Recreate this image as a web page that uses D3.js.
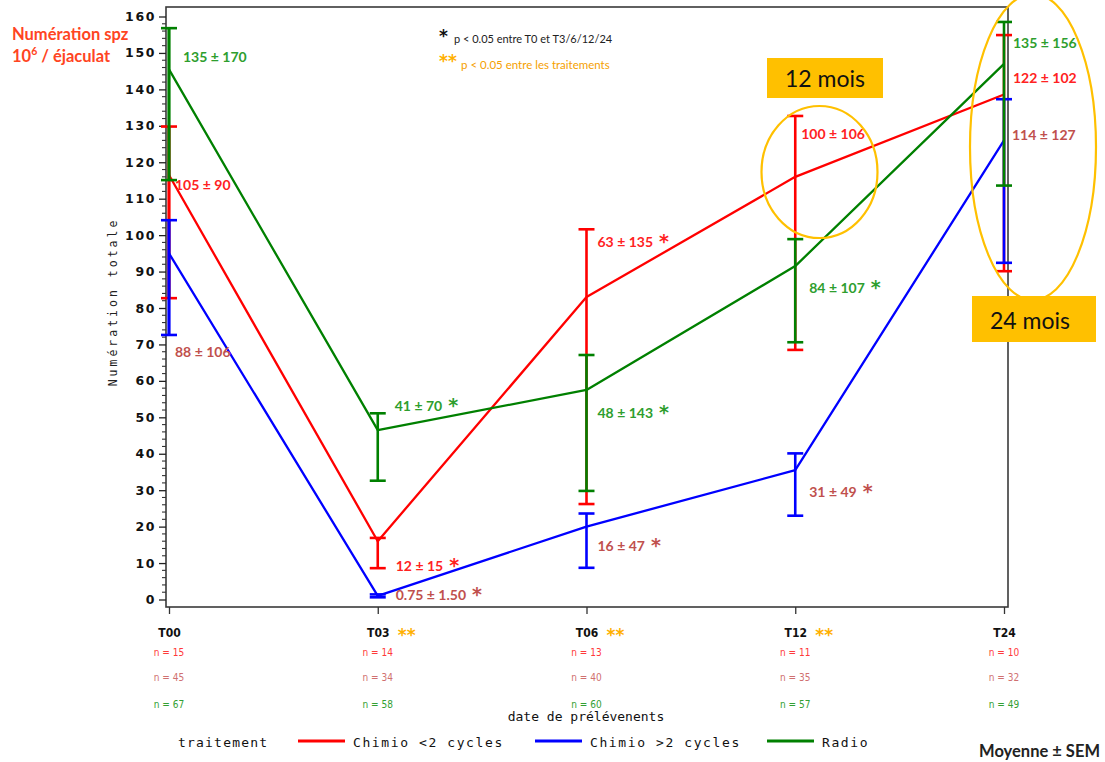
<!DOCTYPE html>
<html>
<head>
<meta charset="utf-8">
<script src="https://cdn.jsdelivr.net/npm/d3@7"></script>
<style>
  html, body { margin: 0; padding: 0; background: #ffffff; }
  svg { display: block; }
</style>
</head>
<body>
<svg id="chart" width="1105" height="762"></svg>
<script>
// ---- data -------------------------------------------------------------
const times = ["T00", "T03", "T06", "T12", "T24"];
const seriesNames = ["Chimio <2 cycles", "Chimio >2 cycles", "Radio"];
const yTicks = [0, 10, 20, 30, 40, 50, 60, 70, 80, 90, 100, 110, 120, 130, 140, 150, 160];

// plotted points (line) per group
const lineChimioLow  = [116.5, 16, 83, 116, 138.6];
const lineChimioHigh = [95, 1, 20, 35.5, 126];
const lineRadio      = [145.5, 46.5, 57.5, 91.5, 147];

// error bars (mean ± SEM): [low, high]
const barChimioLow  = [[82.7, 129.8], [8.6, 16.9], [26.2, 101.6], [68.5, 132.7], [90.1, 154.9]];
const barChimioHigh = [[72.6, 104.1], [0.6, 1.4], [8.7, 23.6], [23.0, 40.1], [92.4, 137.3]];
const barRadio      = [[115.1, 156.8], [32.6, 51.1], [29.8, 67.1], [70.6, 98.9], [113.6, 158.5]];

// mean ± SD labels
const labelChimioLow  = ["105 ± 90", "12 ± 15", "63 ± 135", "100 ± 106", "122 ± 102"];
const labelChimioHigh = ["88 ± 106", "0.75 ± 1.50", "16 ± 47", "31 ± 49", "114 ± 127"];
const labelRadio      = ["135 ± 170", "41 ± 70", "48 ± 143", "84 ± 107", "135 ± 156"];
// significance vs T0
const starChimioLow  = [false, true, true, false, false];
const starChimioHigh = [false, true, true, true, false];
const starRadio      = [false, true, true, true, false];
// significance between treatments
const starBetween = [false, true, true, true, false];

// sample sizes
const nChimioLow  = [15, 14, 13, 11, 10];
const nChimioHigh = [45, 34, 40, 35, 32];
const nRadio      = [67, 58, 60, 57, 49];

// ---- layout & style ---------------------------------------------------
const W = 1105, H = 762;
const frame = { left: 166, right: 1008, top: 7, bottom: 607 };
const lineColors  = ["#ff0000", "#0000ff", "#008000"];
const labelColors = ["#ff2222", "#c0504d", "#2e9e2e"];
const nColors     = ["#ff3a3a", "#d07070", "#33a033"];
const orange = "#ffb000";

// label placement: [dx from point, baseline y] for each series / time
const labelPlace = [
  [[6, 190], [18, 571], [11, 247], [6, 139], [9, 83]],
  [[6, 357], [18, 600], [11, 551], [14, 497], [8, 140]],
  [[14, 62], [17, 411], [11, 418], [14, 293], [9, 48]]
];

const svg = d3.select("#chart");
svg.append("rect").attr("width", W).attr("height", H).attr("fill", "#fff");

const x = d3.scalePoint().domain(times).range([169, 1004]);
const y = d3.scaleLinear().domain([0, 160]).range([599.5, 16.5]);

// frame
svg.append("rect")
  .attr("x", frame.left).attr("y", frame.top)
  .attr("width", frame.right - frame.left).attr("height", frame.bottom - frame.top)
  .attr("fill", "none").attr("stroke", "#3a3a3a").attr("stroke-width", 1.6);

// y axis: major ticks with labels, minor ticks every 2 units
const yAxis = d3.axisLeft(y).tickValues(yTicks).tickSize(7).tickPadding(3).tickFormat(d3.format("d"));
const gy = svg.append("g").attr("transform", `translate(${frame.left},0)`).call(yAxis);
gy.select(".domain").remove();
gy.selectAll("line").attr("stroke", "#222").attr("stroke-width", 1.3);
gy.selectAll("text")
  .attr("font-family", "'DejaVu Sans', sans-serif")
  .attr("font-weight", "bold")
  .attr("font-size", 12.5)
  .attr("letter-spacing", 1.6)
  .attr("fill", "#111");
const minor = d3.range(0, 161, 2).filter(v => v % 10 !== 0);
svg.append("g").selectAll("line").data(minor).join("line")
  .attr("x1", frame.left - 4).attr("x2", frame.left)
  .attr("y1", d => y(d)).attr("y2", d => y(d))
  .attr("stroke", "#333").attr("stroke-width", 1.1);

// y axis title
svg.append("text")
  .attr("transform", `translate(117,${302}) rotate(-90)`)
  .attr("text-anchor", "middle")
  .attr("font-family", "'DejaVu Sans Mono', monospace")
  .attr("font-size", 11.5)
  .attr("letter-spacing", 3)
  .attr("fill", "#222")
  .text("Numération totale");

// x axis ticks and labels
const xAxis = d3.axisBottom(x).tickSize(7).tickPadding(14);
const gx = svg.append("g").attr("transform", `translate(0,${frame.bottom})`).call(xAxis);
gx.select(".domain").remove();
gx.selectAll("line").attr("stroke", "#333").attr("stroke-width", 1.3);
gx.selectAll("text")
  .attr("font-family", "'DejaVu Sans Condensed', 'DejaVu Sans', sans-serif")
  .attr("font-weight", "bold")
  .attr("font-size", 12)
  .attr("fill", "#111");

// between-treatment markers next to the tick labels
svg.append("g").selectAll("text").data(times.filter((t, i) => starBetween[i])).join("text")
  .attr("x", d => x(d) + 20).attr("y", 641)
  .attr("font-family", "'DejaVu Sans', sans-serif")
  .attr("font-weight", "bold")
  .attr("font-size", 17)
  .attr("fill", orange)
  .text("**");

// sample sizes below the axis
const nRows = [nChimioLow, nChimioHigh, nRadio];
const nBase = [656, 681, 708];
nRows.forEach((row, s) => {
  svg.append("g").selectAll("text").data(row).join("text")
    .attr("x", (d, i) => x(times[i])).attr("y", nBase[s])
    .attr("text-anchor", "middle")
    .attr("font-family", "'DejaVu Sans Condensed', 'DejaVu Sans', sans-serif")
    .attr("font-size", 10)
    .attr("fill", nColors[s])
    .text(d => `n = ${d}`);
});

// x axis title
svg.append("text")
  .attr("x", 586).attr("y", 721)
  .attr("text-anchor", "middle")
  .attr("font-family", "'DejaVu Sans Mono', monospace")
  .attr("font-size", 13)
  .attr("fill", "#111")
  .text("date de prélévenents");

// series
const lines = [lineChimioLow, lineChimioHigh, lineRadio];
const bars = [barChimioLow, barChimioHigh, barRadio];
const labels = [labelChimioLow, labelChimioHigh, labelRadio];
const stars = [starChimioLow, starChimioHigh, starRadio];
const capHalf = 8;

const line = d3.line().x((d, i) => x(times[i])).y(d => y(d));

[0, 1, 2].forEach(s => {
  const g = svg.append("g");
  g.append("path")
    .datum(lines[s])
    .attr("d", line)
    .attr("fill", "none")
    .attr("stroke", lineColors[s])
    .attr("stroke-width", 2.3)
    .attr("stroke-linejoin", "round");

  const eb = g.selectAll("g.eb").data(bars[s]).join("g").attr("class", "eb");
  eb.append("line")
    .attr("x1", (d, i) => x(times[i])).attr("x2", (d, i) => x(times[i]))
    .attr("y1", d => y(d[0])).attr("y2", d => y(d[1]))
    .attr("stroke", lineColors[s]).attr("stroke-width", (d, i) => i === 0 ? 3.2 : 2.6);
  [0, 1].forEach(k => {
    eb.append("line")
      .attr("x1", (d, i) => x(times[i]) - capHalf).attr("x2", (d, i) => x(times[i]) + capHalf)
      .attr("y1", d => y(d[k])).attr("y2", d => y(d[k]))
      .attr("stroke", lineColors[s]).attr("stroke-width", 2.6);
  });
});

// value labels
[0, 1, 2].forEach(s => {
  labels[s].forEach((txt, i) => {
    const [dx, by] = labelPlace[s][i];
    const t = svg.append("text")
      .attr("x", x(times[i]) + dx).attr("y", by)
      .attr("font-family", "Lato, sans-serif")
      .attr("font-weight", "bold")
      .attr("font-size", 14)
      .attr("fill", labelColors[s])
      .text(txt);
    if (stars[s][i]) {
      const w = t.node().getComputedTextLength();
      svg.append("text")
        .attr("x", x(times[i]) + dx + w + 6).attr("y", by + 1)
        .attr("font-family", "'DejaVu Sans', sans-serif")
        .attr("font-weight", "bold")
        .attr("font-size", 19)
        .attr("fill", labelColors[s])
        .text("*");
    }
  });
});

// significance notes
svg.append("text").attr("x", 439).attr("y", 42)
  .attr("font-family", "'DejaVu Sans', sans-serif").attr("font-weight", "bold")
  .attr("font-size", 17).attr("fill", "#111").text("*");
svg.append("text").attr("x", 454).attr("y", 43)
  .attr("font-family", "Lato, sans-serif").attr("font-size", 11).attr("fill", "#222")
  .text("p < 0.05 entre T0 et T3/6/12/24");
svg.append("text").attr("x", 439).attr("y", 67)
  .attr("font-family", "'DejaVu Sans', sans-serif").attr("font-weight", "bold")
  .attr("font-size", 17).attr("fill", orange).text("**");
svg.append("text").attr("x", 461).attr("y", 69)
  .attr("font-family", "Lato, sans-serif").attr("font-size", 11.5).attr("fill", "#f5a000")
  .text("p < 0.05 entre les traitements");

// highlighted time points
svg.append("ellipse").attr("cx", 819.5).attr("cy", 172).attr("rx", 58).attr("ry", 66)
  .attr("fill", "none").attr("stroke", "#ffc000").attr("stroke-width", 2.2);
svg.append("ellipse").attr("cx", 1033).attr("cy", 147).attr("rx", 63).attr("ry", 153)
  .attr("fill", "none").attr("stroke", "#ffc000").attr("stroke-width", 2.2);

svg.append("rect").attr("x", 767).attr("y", 58).attr("width", 116).attr("height", 40).attr("fill", "#ffc000");
svg.append("text").attr("x", 825).attr("y", 87).attr("text-anchor", "middle")
  .attr("font-family", "Lato, sans-serif").attr("font-size", 23).attr("fill", "#111").text("12 mois");
svg.append("rect").attr("x", 972).attr("y", 296).attr("width", 124).attr("height", 46).attr("fill", "#ffc000");
svg.append("text").attr("x", 1030).attr("y", 329).attr("text-anchor", "middle")
  .attr("font-family", "Lato, sans-serif").attr("font-size", 23).attr("fill", "#111").text("24 mois");

// axis unit note
svg.append("text").attr("x", 12).attr("y", 40)
  .attr("font-family", "Lato, sans-serif").attr("font-weight", "bold")
  .attr("font-size", 16.5).attr("fill", "#ff4422").text("Numération spz");
const unit = svg.append("text").attr("x", 12).attr("y", 62)
  .attr("font-family", "Lato, sans-serif").attr("font-weight", "bold")
  .attr("font-size", 16.5).attr("fill", "#ff4422");
unit.append("tspan").text("10");
unit.append("tspan").attr("dy", -7).attr("font-size", 10.5).text("6");
unit.append("tspan").attr("dy", 7).text(" / éjaculat");

// legend
const lg = svg.append("g");
lg.append("text").attr("x", 178).attr("y", 747)
  .attr("font-family", "'DejaVu Sans Mono', monospace").attr("font-size", 13)
  .attr("letter-spacing", 1.2).attr("fill", "#111").text("traitement");
const legX = [298, 535, 767];
seriesNames.forEach((name, s) => {
  lg.append("line").attr("x1", legX[s]).attr("x2", legX[s] + 47)
    .attr("y1", 741).attr("y2", 741)
    .attr("stroke", lineColors[s]).attr("stroke-width", 3);
  lg.append("text").attr("x", legX[s] + 55).attr("y", 747)
    .attr("font-family", "'DejaVu Sans Mono', monospace").attr("font-size", 13)
    .attr("letter-spacing", 1.6).attr("fill", "#111").text(name);
});

svg.append("text").attr("x", 1100).attr("y", 757).attr("text-anchor", "end")
  .attr("font-family", "Lato, sans-serif").attr("font-weight", "bold")
  .attr("font-size", 16.5).attr("fill", "#222").text("Moyenne ± SEM");
</script>
</body>
</html>
